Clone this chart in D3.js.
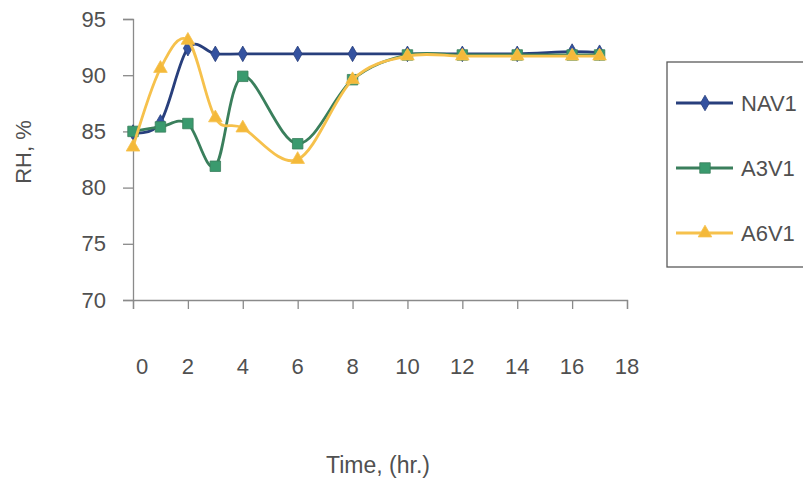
<!DOCTYPE html>
<html>
<head>
<meta charset="utf-8">
<script src="https://cdn.jsdelivr.net/npm/d3@7"></script>
<style>
  html, body { margin: 0; padding: 0; background: #fff; }
  svg { display: block; }
  text { font-family: "Liberation Sans", Arial, sans-serif; fill: #505050; }
</style>
</head>
<body>
<svg id="chart" width="803" height="484"></svg>
<script>
// Sampling times (hr.)
const times = [0, 1, 2, 3, 4, 6, 8, 10, 12, 14, 16, 17];

// Relative humidity (%) for each treatment
const nav1 = [84.9, 85.8, 92.4, 91.9, 91.9, 91.9, 91.9, 91.9, 91.9, 91.9, 92.1, 92.0];
const a3v1 = [85.0, 85.4, 85.7, 81.9, 89.9, 83.9, 89.6, 91.8, 91.8, 91.8, 91.8, 91.8];
const a6v1 = [83.6, 90.6, 93.1, 86.2, 85.3, 82.5, 89.6, 91.7, 91.7, 91.7, 91.7, 91.7];

const seriesNames = ["NAV1", "A3V1", "A6V1"];
const xTicks = [0, 2, 4, 6, 8, 10, 12, 14, 16, 18];
const yTicks = [70, 75, 80, 85, 90, 95];

const series = [
  { name: seriesNames[0], values: nav1, line: "#283f7c", fill: "#3452a0", symbol: d3.symbolDiamond, size: 70 },
  { name: seriesNames[1], values: a3v1, line: "#3a7f5c", fill: "#3a9a6e", symbol: d3.symbolSquare, size: 110 },
  { name: seriesNames[2], values: a6v1, line: "#f6c14c", fill: "#f4b93a", symbol: d3.symbolTriangle, size: 80 }
];

const svg = d3.select("#chart");

const x = d3.scaleLinear().domain([0, 18]).range([133, 627]);
const y = d3.scaleLinear().domain([70, 95]).range([300, 19]);

const axisColor = "#8a8a8a";
const fontSize = "22px";

// Y axis
const yAxis = svg.append("g")
  .attr("transform", `translate(${x(0)},0)`)
  .call(d3.axisLeft(y).tickValues(yTicks).tickSize(10).tickPadding(17));
yAxis.select(".domain").attr("stroke", axisColor).attr("stroke-width", 1.3);
yAxis.selectAll(".tick line").attr("stroke", axisColor).attr("stroke-width", 1.3);
yAxis.selectAll(".tick text")
  .style("font-size", fontSize)
  .style("font-family", "'Liberation Sans', Arial, sans-serif")
  .attr("fill", "#505050");

// X axis line with ticks
const xAxis = svg.append("g")
  .attr("transform", `translate(0,${y(70)})`)
  .call(d3.axisBottom(x).tickValues(xTicks).tickSize(9).tickFormat(""));
xAxis.select(".domain").attr("stroke", axisColor).attr("stroke-width", 1.3);
xAxis.selectAll(".tick line").attr("stroke", axisColor).attr("stroke-width", 1.3);

// X tick labels sit well below the axis
svg.append("g").selectAll("text")
  .data(xTicks)
  .join("text")
  .attr("x", d => x(d) + (d === 0 ? 9 : 0))
  .attr("y", 374)
  .attr("text-anchor", "middle")
  .style("font-size", fontSize)
  .text(d => d);

// Axis titles
svg.append("text")
  .attr("x", 378)
  .attr("y", 473)
  .attr("text-anchor", "middle")
  .style("font-size", "23px")
  .text("Time, (hr.)");

svg.append("text")
  .attr("transform", "translate(31,152) rotate(-90)")
  .attr("text-anchor", "middle")
  .style("font-size", fontSize)
  .text("RH, %");

// Smoothed series lines
const line = d3.line()
  .x((d, i) => x(times[i]))
  .y(d => y(d))
  .curve(d3.curveCardinal.tension(0));

const plot = svg.append("g");
series.forEach(s => {
  plot.append("path")
    .attr("d", line(s.values))
    .attr("fill", "none")
    .attr("stroke", s.line)
    .attr("stroke-width", 2.8);
  plot.append("g").selectAll("path")
    .data(s.values)
    .join("path")
    .attr("transform", (d, i) => `translate(${x(times[i])},${y(d)})`)
    .attr("d", d3.symbol(s.symbol, s.size)())
    .attr("fill", s.fill)
    .attr("stroke", s.line)
    .attr("stroke-width", 0.8);
});

// Legend
const legend = svg.append("g");
legend.append("rect")
  .attr("x", 667).attr("y", 62)
  .attr("width", 160).attr("height", 205)
  .attr("fill", "#fff")
  .attr("stroke", "#5a5a5a")
  .attr("stroke-width", 1.3);

const legendY = d3.scalePoint().domain(seriesNames).range([103, 233]);
series.forEach(s => {
  const g = legend.append("g").attr("transform", `translate(0,${legendY(s.name)})`);
  g.append("line")
    .attr("x1", 676).attr("x2", 733)
    .attr("stroke", s.line).attr("stroke-width", 2.8);
  g.append("path")
    .attr("transform", "translate(705,0)")
    .attr("d", d3.symbol(s.symbol, s.size)())
    .attr("fill", s.fill)
    .attr("stroke", s.line)
    .attr("stroke-width", 0.8);
  g.append("text")
    .attr("x", 741)
    .attr("y", 8)
    .style("font-size", fontSize)
    .text(s.name);
});
</script>
</body>
</html>
